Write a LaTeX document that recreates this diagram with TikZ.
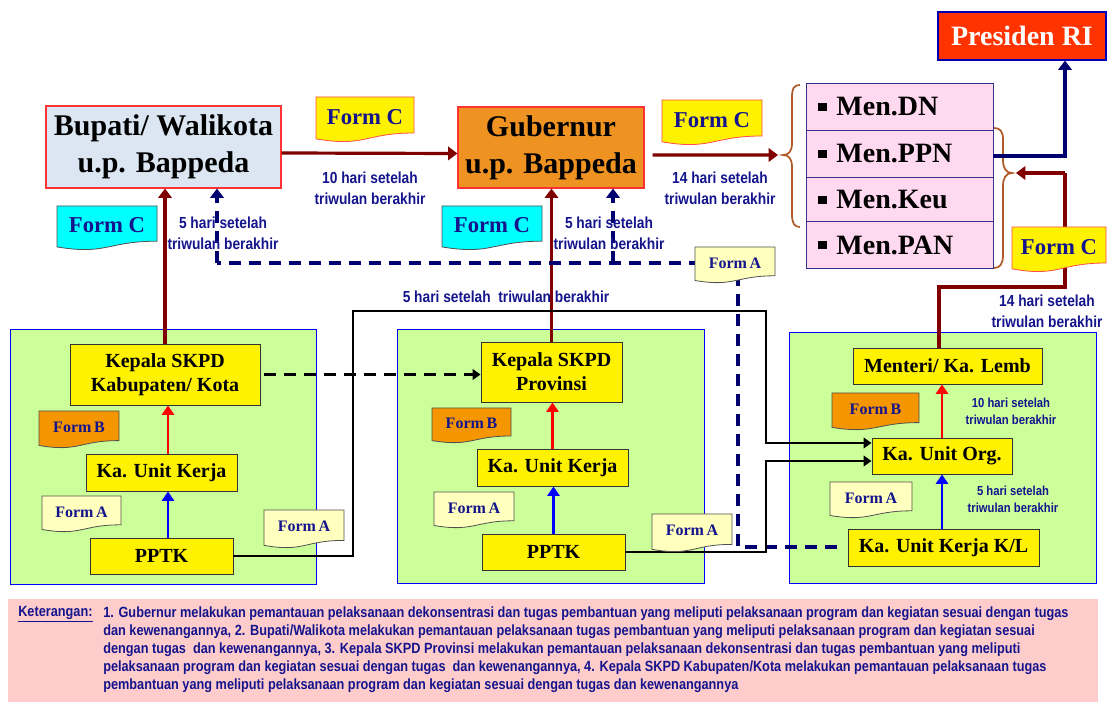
\documentclass[tikz,border=0pt]{standalone}
\usepackage{fontspec}
\setmainfont{Liberation Serif}
\newfontfamily\narrowsans[FakeStretch=0.86]{Liberation Sans}
\usetikzlibrary{arrows.meta,fit}
\definecolor{navytxt}{RGB}{20,20,140}
\definecolor{darkred}{RGB}{128,0,0}
\definecolor{navyline}{RGB}{0,0,110}
\definecolor{bupatifill}{RGB}{220,230,242}
\definecolor{gubfill}{RGB}{238,146,34}
\definecolor{panelgreen}{RGB}{204,255,153}
\definecolor{formcyan}{RGB}{0,255,255}
\definecolor{formorange}{RGB}{245,150,0}
\definecolor{formlight}{RGB}{255,255,190}
\definecolor{menpink}{RGB}{255,217,240}
\definecolor{presred}{RGB}{255,51,0}
\definecolor{ketpink}{RGB}{255,204,204}
\definecolor{bracebrown}{RGB}{176,90,40}
\definecolor{docedge}{RGB}{80,80,80}
\newcommand{\formdoc}[8]{%
  \path[#2, line width=0.6pt] (#3,#4) -- (#5,#4) -- (#5,{#4+0.80*(#6-#4)}) .. controls ({(#3+#5)/2},{#4+0.80*(#6-#4)}) and ({(#3+#5)/2},{#4+1.12*(#6-#4)}) .. (#3,{#4+0.93*(#6-#4)}) -- cycle;
  \node[font=#7, text=navytxt, inner sep=0] (#1) at ({(#3+#5)/2},{#4+0.44*(#6-#4)}) {#8};}
\tikzset{
  ybox/.style={draw=black!80, fill=yellow, line width=0.7pt, inner sep=0, align=center, font=\bfseries\fontsize{15}{18}\selectfont},
  panel/.style={draw=blue, fill=panelgreen, line width=0.7pt, inner sep=0},
  redarr/.style={draw=darkred, line width=2.4pt, -{Triangle[length=7pt,width=10pt]}},
  redline/.style={draw=darkred, line width=2.4pt},
  inred/.style={draw=red, line width=2.2pt, -{Triangle[length=7pt,width=9pt]}},
  inblue/.style={draw=blue, line width=2.2pt, -{Triangle[length=7pt,width=9pt]}},
  blkarr/.style={draw=black, line width=1.5pt, -{Triangle[length=6pt,width=8pt]}},
  blkdash/.style={draw=black, line width=2.2pt, dash pattern=on 9pt off 6pt, -{Triangle[length=6pt,width=8pt]}},
  navydash/.style={draw=navyline, line width=2.7pt, dash pattern=on 9pt off 6pt},
  navydarr/.style={navydash, -{Triangle[length=7pt,width=10pt]}},
  navyarr/.style={draw=navyline, line width=2.4pt, -{Triangle[length=7pt,width=10pt]}},
  lbl/.style={text=navytxt, align=center, inner sep=0, font=\narrowsans\bfseries\fontsize{12}{15.5}\selectfont},
  slbl/.style={text=navytxt, align=center, inner sep=0, font=\narrowsans\bfseries\fontsize{9.8}{12.8}\selectfont},
  mrow/.style={draw=navyline!80, fill=menpink, line width=0.7pt, inner sep=0},
  mtxt/.style={anchor=west, inner sep=0, font=\bfseries\fontsize{21}{24}\selectfont},
  kline/.style={anchor=west, inner sep=0, text=navytxt, font=\narrowsans\bfseries\fontsize{11.1}{12}\selectfont}
}
\newcommand{\sqb}{\raisebox{0.17em}{\rule{0.3em}{0.3em}}\hspace{0.35em}}
\begin{document}
\begin{tikzpicture}[x=0.75pt,y=-0.75pt]
\useasboundingbox (0,0) rectangle (1108,702);
\fill[white] (0,0) rectangle (1108,702);

% top nodes
\node[draw=red!80, fill=bupatifill, line width=0.8pt, inner sep=0, fit={(46,106) (281,188)}] (bupati) {};
\node[align=center, font=\bfseries\fontsize{22.5}{28}\selectfont, inner sep=0] (bupatitxt) at (bupati.center) {Bupati/ Walikota\\u.p. Bappeda};
\node[draw=red!80, fill=gubfill, line width=0.8pt, inner sep=0, fit={(458,107) (644,188)}] (gubernur) {};
\node[align=center, font=\bfseries\fontsize{22.5}{28}\selectfont, inner sep=0] (gubtxt) at (gubernur.center) {Gubernur\\u.p. Bappeda};
\node[draw=blue!70!black, fill=presred, line width=0.8pt, inner sep=0, fit={(938,12) (1106,60)}] (presiden) {};
\node[text=white, font=\bfseries\fontsize{21}{24}\selectfont, inner sep=0] (prestxt) at (presiden.center) {Presiden RI};

% minister table
\node[mrow, fit={(806,83) (993,130)}] (rowDN) {};
\node[mrow, fit={(806,130) (993,177)}] (rowPPN) {};
\node[mrow, fit={(806,177) (993,221)}] (rowKeu) {};
\node[mrow, fit={(806,221) (993,268)}] (rowPAN) {};
\node[mtxt] (tDN) at (818,107) {\sqb Men.DN};
\node[mtxt] (tPPN) at (818,154) {\sqb Men.PPN};
\node[mtxt] (tKeu) at (818,200) {\sqb Men.Keu};
\node[mtxt] (tPAN) at (818,245) {\sqb Men.PAN};

% braces
\draw[bracebrown, line width=1.3pt] (800,85) .. controls (794,85) and (792,88) .. (792,98) -- (792,143) .. controls (792,151) and (789,155) .. (783,155) .. controls (789,155) and (792,159) .. (792,167) -- (792,214) .. controls (792,223) and (794,227) .. (800,227);
\draw[bracebrown, line width=1.3pt] (994,128) .. controls (1000,128) and (1003,131) .. (1003,140) -- (1003,160) .. controls (1003,168) and (1006,173) .. (1012,173) .. controls (1006,173) and (1003,178) .. (1003,186) -- (1003,255) .. controls (1003,264) and (1000,268) .. (994,268);
\coordinate (bracetip) at (778,155);
\coordinate (bracetip2) at (1016,173);

% panels
\node[panel, fit={(10,329) (316,584)}] (panel1) {};
\node[panel, fit={(397,329) (704,583)}] (panel2) {};
\node[panel, fit={(789,332) (1096,583)}] (panel3) {};

% panel 1
\node[ybox, fit={(70,344) (260,405)}] (kepkab) {};
\node[ybox, draw=none, fill=none] (kepkabtxt) at (kepkab.center) {Kepala SKPD\\Kabupaten/ Kota};
\node[ybox, fit={(86,454) (237,491)}] (unitkab) {};
\node[ybox, draw=none, fill=none] (unitkabtxt) at (unitkab.center) {Ka. Unit Kerja};
\node[ybox, fit={(90,538) (233,574)}] (pptk1) {};
\node[ybox, draw=none, fill=none] (pptk1txt) at (pptk1.center) {PPTK};

% panel 2
\node[ybox, fit={(481,342) (622,402)}] (kepprov) {};
\node[ybox, draw=none, fill=none] (kepprovtxt) at (kepprov.center) {Kepala SKPD\\Provinsi};
\node[ybox, fit={(477,449) (628,486)}] (unitprov) {};
\node[ybox, draw=none, fill=none] (unitprovtxt) at (unitprov.center) {Ka. Unit Kerja};
\node[ybox, fit={(482,534) (625,570)}] (pptk2) {};
\node[ybox, draw=none, fill=none] (pptk2txt) at (pptk2.center) {PPTK};

% panel 3
\node[ybox, fit={(853,348) (1042,384)}] (menteri) {};
\node[ybox, draw=none, fill=none] (mentxt) at (menteri.center) {Menteri/ Ka. Lemb};
\node[ybox, fit={(872,438) (1012,474)}] (unitorg) {};
\node[ybox, draw=none, fill=none] (unitorgtxt) at (unitorg.center) {Ka. Unit Org.};
\node[ybox, fit={(848,529) (1039,566)}] (unitkl) {};
\node[ybox, draw=none, fill=none] (unitkltxt) at (unitkl.center) {Ka. Unit Kerja K/L};

% helper coordinates
\coordinate (ax1) at (168,0);
\coordinate (ax3) at (942,0);
\coordinate (c1) at (353,311);
\coordinate (c2) at (766,443);
\coordinate (c3) at (766,461);
\coordinate (d1) at (738,547);
\coordinate (d2) at (738,263);
\coordinate (d3) at (217,263);
\coordinate (d4) at (613,263);
\coordinate (r1) at (939,287);
\coordinate (r2) at (1065,287);
\coordinate (b1) at (1065,156);

% connectors top
\draw[redarr] ([yshift=-4.5pt]bupati.east) -- ([yshift=-4.5pt]gubernur.west);
\draw[redarr] ([xshift=6pt,yshift=-5.6pt]gubernur.east) -- (bracetip);
\draw[redarr] (kepkab.north) -- (kepkab.north |- bupati.south);
\draw[redarr] (kepprov.north) -- (kepprov.north |- gubernur.south);
\draw[navyarr] (rowPPN.east |- b1) -- (b1) -- (b1 |- presiden.south);
\draw[redline] (menteri.north -| r1) -- (r1) -- (r2) -- (r2 |- bracetip2);
\draw[redarr] (r2 |- bracetip2) -- (bracetip2);

% dashed navy
\draw[navydash] ([xshift=-8pt]unitkl.west |- d1) -- (d1) -- (d2) -- (d3);
\draw[navydarr] (d3) -- (d3 |- bupati.south);
\draw[navydarr] (d4) -- (d4 |- gubernur.south);

% black lines
\draw[blkarr] (pptk1.east) -| (c1) -| (c2) -- (c2 -| unitorg.west);
\draw[blkarr] (pptk2.east) -| (c3) -- (c3 -| unitorg.west);
\draw[blkdash] ([xshift=3pt]kepkab.east) -- (kepkab.east -| kepprov.west);

% inner arrows
\draw[inred] (unitkab.north -| ax1) -- (kepkab.south -| ax1);
\draw[inblue] (pptk1.north -| ax1) -- (unitkab.south -| ax1);
\draw[inred] (unitprov.north) -- (unitprov.north |- kepprov.south);
\draw[inblue] (pptk2.north) -- (pptk2.north |- unitprov.south);
\draw[inred] (unitorg.north -| ax3) -- (menteri.south -| ax3);
\draw[inblue] (unitkl.north -| ax3) -- (unitorg.south -| ax3);

% forms
\formdoc{fc1}{fill=yellow, draw=red!70}{316}{97}{414}{142}{\bfseries\fontsize{17}{18}\selectfont}{Form C}
\formdoc{fc2}{fill=yellow, draw=red!70}{662}{100}{762}{145}{\bfseries\fontsize{17}{18}\selectfont}{Form C}
\formdoc{fc3}{fill=formcyan, draw=docedge}{57}{206}{157}{250}{\bfseries\fontsize{17}{18}\selectfont}{Form C}
\formdoc{fc4}{fill=formcyan, draw=docedge}{442}{206}{542}{250}{\bfseries\fontsize{17}{18}\selectfont}{Form C}
\formdoc{fc5}{fill=yellow, draw=red!70}{1012}{227}{1106}{272}{\bfseries\fontsize{17}{18}\selectfont}{Form C}
\formdoc{fatop}{fill=formlight, draw=docedge}{695}{247}{775}{283}{\bfseries\fontsize{12}{14}\selectfont}{Form\,A}
\formdoc{fb1}{fill=formorange, draw=docedge}{39}{411}{119}{448}{\bfseries\fontsize{12}{14}\selectfont}{Form\,B}
\formdoc{fa1}{fill=formlight, draw=docedge}{42}{496}{121}{532}{\bfseries\fontsize{12}{14}\selectfont}{Form\,A}
\formdoc{fa1r}{fill=formlight, draw=docedge}{264}{510}{344}{548}{\bfseries\fontsize{12}{14}\selectfont}{Form\,A}
\formdoc{fb2}{fill=formorange, draw=docedge}{432}{408}{511}{443}{\bfseries\fontsize{12}{14}\selectfont}{Form\,B}
\formdoc{fa2}{fill=formlight, draw=docedge}{434}{492}{514}{528}{\bfseries\fontsize{12}{14}\selectfont}{Form\,A}
\formdoc{fa2r}{fill=formlight, draw=docedge}{652}{514}{732}{552}{\bfseries\fontsize{12}{14}\selectfont}{Form\,A}
\formdoc{fb3}{fill=formorange, draw=docedge}{832}{393}{919}{430}{\bfseries\fontsize{12}{14}\selectfont}{Form\,B}
\formdoc{fa3}{fill=formlight, draw=docedge}{830}{482}{912}{518}{\bfseries\fontsize{12}{14}\selectfont}{Form\,A}

% labels
\node[lbl] (l1) at (370,188.5) {10 hari setelah\\triwulan berakhir};
\node[lbl] (l2) at (720,188.5) {14 hari setelah\\triwulan berakhir};
\node[lbl] (l3) at (223,233.5) {5 hari setelah\\triwulan berakhir};
\node[lbl] (l4) at (609,233.5) {5 hari setelah\\triwulan berakhir};
\node[lbl] (l5) at (506,297) {5 hari setelah\ \ triwulan berakhir};
\node[lbl] (l6) at (1047,311.5) {14 hari setelah\\triwulan berakhir};
\node[slbl] (l7) at (1011,411.5) {10 hari setelah\\triwulan berakhir};
\node[slbl] (l8) at (1013,499.5) {5 hari setelah\\triwulan berakhir};

% keterangan
\node[fill=ketpink, inner sep=0, fit={(8,599) (1098,702)}] (ket) {};
\node[kline] (k0) at (18,614) {\underline{Keterangan:}};
\node[kline] (k1) at (103,614) {1. Gubernur melakukan pemantauan pelaksanaan dekonsentrasi dan tugas pembantuan yang meliputi pelaksanaan program dan kegiatan sesuai dengan tugas};
\node[kline] (k2) at (103,632) {dan kewenangannya, 2. Bupati/Walikota melakukan pemantauan pelaksanaan tugas pembantuan yang meliputi pelaksanaan program dan kegiatan sesuai};
\node[kline] (k3) at (103,650) {dengan tugas\ \ dan kewenangannya, 3. Kepala SKPD Provinsi melakukan pemantauan pelaksanaan dekonsentrasi dan tugas pembantuan yang meliputi};
\node[kline] (k4) at (103,668) {pelaksanaan program dan kegiatan sesuai dengan tugas\ \ dan kewenangannya, 4. Kepala SKPD Kabupaten/Kota melakukan pemantauan pelaksanaan tugas};
\node[kline] (k5) at (103,686) {pembantuan yang meliputi pelaksanaan program dan kegiatan sesuai dengan tugas dan kewenangannya};
\end{tikzpicture}
\end{document}
